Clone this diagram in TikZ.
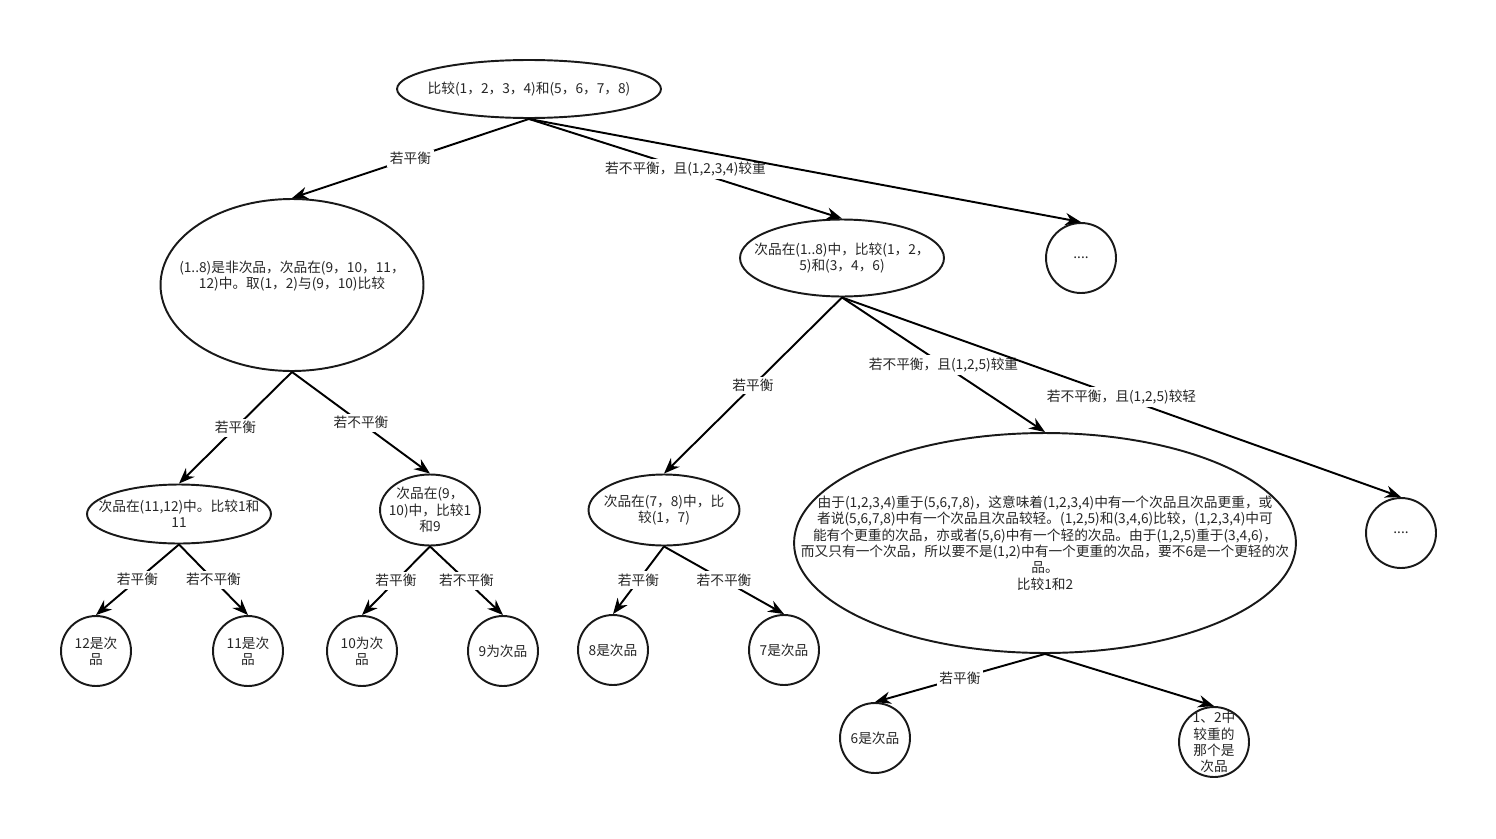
\documentclass[tikz,border=0pt]{standalone}
\usepackage{fontspec}
\setmainfont{Noto Sans CJK SC}
\usetikzlibrary{shapes.geometric, arrows.meta}

\begin{document}
\begin{tikzpicture}[->, >={Stealth[length=9pt, width=7pt]}, line width=1.1pt,
  x=0.02cm, y=-0.02cm,
  every node/.style={font=\fontsize{7.8}{9.3}\selectfont, text=black!85},
  egg/.style={ellipse, draw=black!90, inner sep=0pt},
  ball/.style={circle, draw=black!90, inner sep=0pt, minimum size=1.4cm},
  txt/.style={align=center, inner sep=0pt},
  lbl/.style={fill=white, inner sep=1.5pt}]

  \useasboundingbox (0,0) rectangle (1496,838);

  % first weighing
  \node[egg, minimum width=5.28cm, minimum height=1.16cm,
        label={[txt]center:{比较(1，2，3，4)和(5，6，7，8)}}] (top) at (529,89) {};

  % second level
  \node[egg, minimum width=5.26cm, minimum height=3.44cm,
        label={[txt, yshift=5pt]center:{(1..8)是非次品，次品在(9，10，11，\\12)中。取(1，2)与(9，10)比较}}] (l1) at (292,285) {};
  \node[egg, minimum width=4.08cm, minimum height=1.54cm,
        label={[txt]center:{次品在(1..8)中，比较(1，2，\\5)和(3，4，6)}}] (m1) at (842,258) {};
  \node[ball, label={[txt]center:{....}}] (dots1) at (1081,258) {};

  % third level
  \node[egg, minimum width=3.68cm, minimum height=1.18cm,
        label={[txt]center:{次品在(11,12)中。比较1和\\11}}] (l2a) at (179,514) {};
  \node[egg, minimum width=2.0cm, minimum height=1.42cm,
        label={[txt]center:{次品在(9，\\10)中，比较1\\和9}}] (l2b) at (430,510) {};
  \node[egg, minimum width=3.02cm, minimum height=1.42cm,
        label={[txt]center:{次品在(7，8)中，比\\较(1，7)}}] (m2a) at (664,510) {};
  \node[egg, minimum width=10.04cm, minimum height=4.4cm,
        label={[txt]center:{由于(1,2,3,4)重于(5,6,7,8)，这意味着(1,2,3,4)中有一个次品且次品更重，或\\
          者说(5,6,7,8)中有一个次品且次品较轻。(1,2,5)和(3,4,6)比较，(1,2,3,4)中可\\
          能有个更重的次品，亦或者(5,6)中有一个轻的次品。由于(1,2,5)重于(3,4,6)，\\
          而又只有一个次品，所以要不是(1,2)中有一个更重的次品，要不6是一个更轻的次\\
          品。\\比较1和2}}] (m2b) at (1045,543) {};
  \node[ball, label={[txt]center:{....}}] (dots2) at (1401,533) {};

  % leaves
  \node[ball, label={[txt]center:{12是次\\品}}] (c12) at (96,651) {};
  \node[ball, label={[txt]center:{11是次\\品}}] (c11) at (248,651) {};
  \node[ball, label={[txt]center:{10为次\\品}}] (c10) at (362,651) {};
  \node[ball, label={[txt]center:{9为次品}}] (c9) at (503,651) {};
  \node[ball, label={[txt]center:{8是次品}}] (c8) at (613,650) {};
  \node[ball, label={[txt]center:{7是次品}}] (c7) at (784,650) {};
  \node[ball, label={[txt]center:{6是次品}}] (c6) at (875,738) {};
  \node[ball, label={[txt]center:{1、2中\\较重的\\那个是\\次品}}] (c12h) at (1214,742) {};

  \path (top.south) edge node[lbl] {若平衡} (l1.north)
                    edge node[lbl] {若不平衡，且(1,2,3,4)较重} (m1.north)
                    edge (dots1.north)
        (l1.south)  edge node[lbl] {若平衡} (l2a.north)
                    edge node[lbl] {若不平衡} (l2b.north)
        (l2a.south) edge node[lbl] {若平衡} (c12.north)
                    edge node[lbl] {若不平衡} (c11.north)
        (l2b.south) edge node[lbl] {若平衡} (c10.north)
                    edge node[lbl] {若不平衡} (c9.north)
        (m1.south)  edge node[lbl] {若平衡} (m2a.north)
                    edge node[lbl] {若不平衡，且(1,2,5)较重} (m2b.north)
                    edge node[lbl] {若不平衡，且(1,2,5)较轻} (dots2.north)
        (m2a.south) edge node[lbl] {若平衡} (c8.north)
                    edge node[lbl] {若不平衡} (c7.north)
        (m2b.south) edge node[lbl] {若平衡} (c6.north)
                    edge (c12h.north);

\end{tikzpicture}
\end{document}
